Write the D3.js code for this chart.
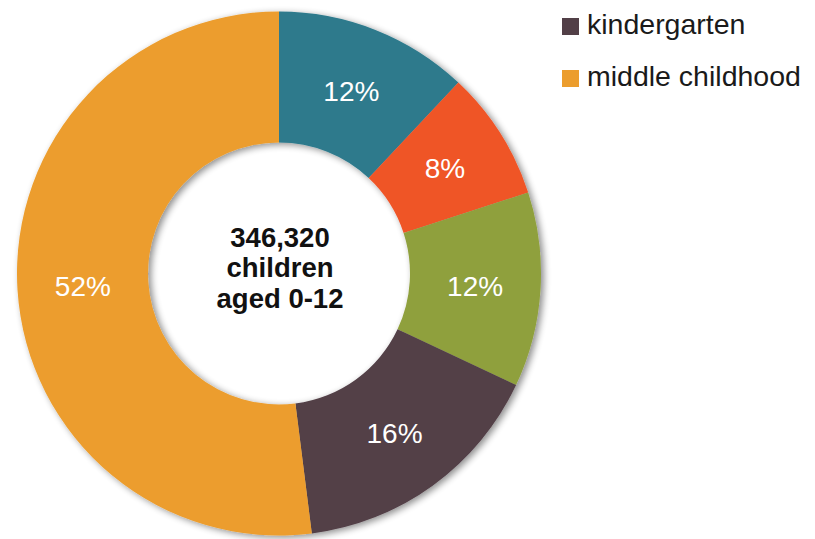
<!DOCTYPE html>
<html>
<head>
<meta charset="utf-8">
<script src="https://cdn.jsdelivr.net/npm/d3@7"></script>
<style>
  html, body { margin: 0; padding: 0; background: #ffffff; }
  svg { display: block; font-family: "Liberation Sans", Arial, Helvetica, sans-serif; }
</style>
</head>
<body>
<svg id="chart" width="815" height="539"></svg>
<script>
// Share of children aged 0-12 by group (percent), clockwise from 12 o'clock
const segmentKeys   = ["s1", "s2", "s3", "kindergarten", "middle childhood"];
const segmentValues = [12, 8, 12, 16, 52];
const segmentColors = ["#2e7a8c", "#ef5428", "#8fa03c", "#523f47", "#ec9d2d"];

// Legend entries shown to the right of the ring
const legendLabels = ["kindergarten", "middle childhood"];
const legendColors = ["#523f47", "#ec9d2d"];

// Centre caption
const centreLines = ["346,320", "children", "aged 0-12"];

const svg = d3.select("#chart");
const cx = 279, cy = 273.5;
const outerR = 262, innerR = 131;

// Soft drop shadow cast by the ring
const defs = svg.append("defs");
const f = defs.append("filter").attr("id", "ringShadow")
  .attr("x", "-10%").attr("y", "-10%").attr("width", "120%").attr("height", "120%");
f.append("feGaussianBlur").attr("in", "SourceAlpha").attr("stdDeviation", 3.5).attr("result", "b");
f.append("feOffset").attr("in", "b").attr("dx", 3).attr("dy", 2).attr("result", "o");
f.append("feComponentTransfer").attr("in", "o").attr("result", "s")
  .append("feFuncA").attr("type", "linear").attr("slope", 0.45);
const m = f.append("feMerge");
m.append("feMergeNode").attr("in", "s");
m.append("feMergeNode").attr("in", "SourceGraphic");

const data = segmentKeys.map((k, i) => ({ key: k, value: segmentValues[i], color: segmentColors[i] }));

const pie = d3.pie().value(d => d.value).sort(null);
const arc = d3.arc().innerRadius(innerR).outerRadius(outerR);
const arcs = pie(data);

const g = svg.append("g").attr("transform", `translate(${cx},${cy})`);

g.append("g").attr("filter", "url(#ringShadow)")
  .selectAll("path")
  .data(arcs)
  .join("path")
  .attr("d", arc)
  .attr("fill", d => d.data.color);

// Percentage labels at each slice centroid
g.selectAll("text.pct")
  .data(arcs)
  .join("text")
  .attr("class", "pct")
  .attr("transform", d => `translate(${arc.centroid(d)})`)
  .attr("text-anchor", "middle")
  .attr("dy", "0.36em")
  .attr("fill", "#ffffff")
  .attr("font-size", 28)
  .text(d => d.data.value + "%");

// Centre caption
g.append("text")
  .attr("text-anchor", "middle")
  .attr("font-size", 27.5)
  .attr("font-weight", "bold")
  .attr("fill", "#111111")
  .selectAll("tspan")
  .data(centreLines)
  .join("tspan")
  .attr("x", 1)
  .attr("y", (d, i) => -27 + i * 30.5)
  .text(d => d);

// Legend
const legend = svg.append("g").attr("transform", "translate(562,18)");
const items = legend.selectAll("g")
  .data(legendLabels)
  .join("g")
  .attr("transform", (d, i) => `translate(0,${i * 52})`);
items.append("rect")
  .attr("width", 17).attr("height", 17)
  .attr("fill", (d, i) => legendColors[i]);
items.append("text")
  .attr("x", 25).attr("y", 15.5)
  .attr("font-size", 28.5)
  .attr("fill", "#1a1a1a")
  .text(d => d);
</script>
</body>
</html>
